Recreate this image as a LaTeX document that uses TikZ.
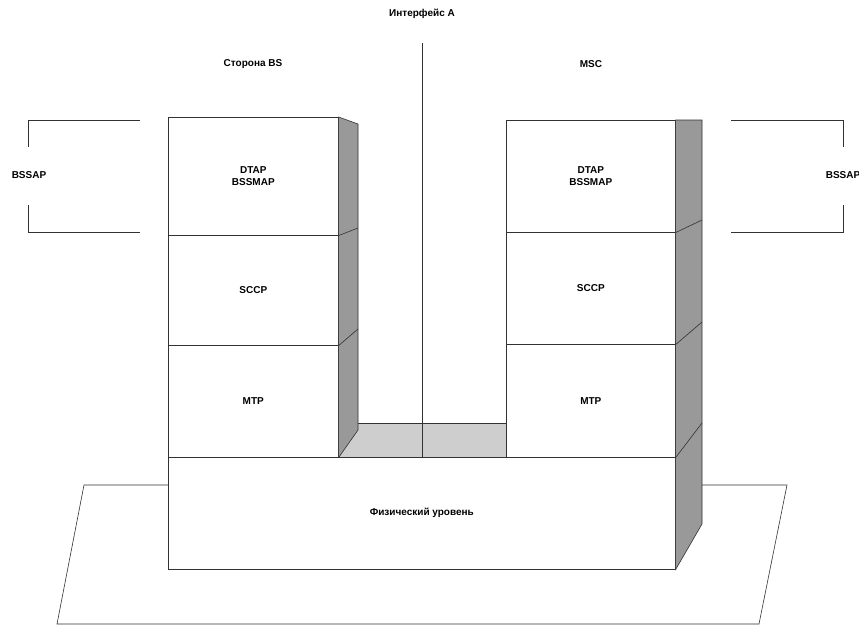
\documentclass[tikz,border=0pt]{standalone}
\usepackage{fontspec}
\setmainfont{Liberation Sans}
\usepackage{xcolor}
\definecolor{sidegray}{RGB}{153,153,153}
\definecolor{floorgray}{RGB}{206,206,206}
\definecolor{edgegray}{RGB}{50,50,50}
\tikzset{
  layer/.style={draw=edgegray, fill=white, line width=0.6pt, align=center,
    inner sep=0pt, anchor=north west, font=\fontsize{10}{12.5}\selectfont\bfseries},
  side/.style={draw=edgegray, fill=sidegray, line width=0.6pt},
  edge/.style={draw=edgegray, line width=0.6pt},
  lbl/.style={font=\fontsize{10}{12}\selectfont\bfseries},
}

\begin{document}
\begin{tikzpicture}[x=1pt,y=-1pt]
  \useasboundingbox (0,0) rectangle (859,626);
  % platform under the physical level
  \draw[edgegray, fill=white, line width=0.6pt] (57,624) -- (759,624) -- (787,485) -- (84,485) -- cycle;
  % floor between the two stacks
  \fill[floorgray] (338,457) -- (358,423) -- (506,423) -- (506,457) -- cycle;
  \draw[edge] (358,423) -- (506,423);
  % BS side stack
  \node[layer, minimum width=170, minimum height=118] (ldtap) at (168,117) {DTAP\\BSSMAP};
  \node[layer, minimum width=170, minimum height=110] (lsccp) at (168,235) {SCCP};
  \node[layer, minimum width=170, minimum height=112] (lmtp) at (168,345) {MTP};
  \draw[side] (ldtap.north east) -- (358,124) -- (358,430) -- (lmtp.south east) -- cycle;
  \draw[edge] (ldtap.south east) -- (358,228);
  \draw[edge] (lsccp.south east) -- (358,329);
  % MSC stack
  \node[layer, minimum width=169, minimum height=112] (rdtap) at (506,120) {DTAP\\BSSMAP};
  \node[layer, minimum width=169, minimum height=112] (rsccp) at (506,232) {SCCP};
  \node[layer, minimum width=169, minimum height=113] (rmtp) at (506,344) {MTP};
  \node[layer, minimum width=507, minimum height=112] (phys) at (168,457) {Физический уровень};
  \draw[side] (rdtap.north east) -- (702,120) -- (702,524) -- (phys.south east) -- cycle;
  \draw[edge] (rdtap.south east) -- (702,220);
  \draw[edge] (rsccp.south east) -- (702,322);
  \draw[edge] (rmtp.south east) -- (702,423);
  % interface line
  \coordinate (atop) at (422,43);
  \draw[edge] (atop) -- (atop |- phys.north);
  % labels
  \node[lbl] (iface) at (422,14) {Интерфейс A};
  \node[lbl] (bsside) at (253,64) {Сторона BS};
  \node[lbl] (msc) at (591,64) {MSC};
  \node[lbl] (lbssap) at (29,175) {BSSAP};
  \node[lbl] (rbssap) at (843,175) {BSSAP};
  % BSSAP brackets
  \draw[edge] (140,120) -- (28,120) -- (28,147);
  \draw[edge] (28,205) -- (28,232) -- (140,232);
  \draw[edge] (731,120) -- (843,120) -- (843,147);
  \draw[edge] (843,205) -- (843,232) -- (731,232);
\end{tikzpicture}
\end{document}
